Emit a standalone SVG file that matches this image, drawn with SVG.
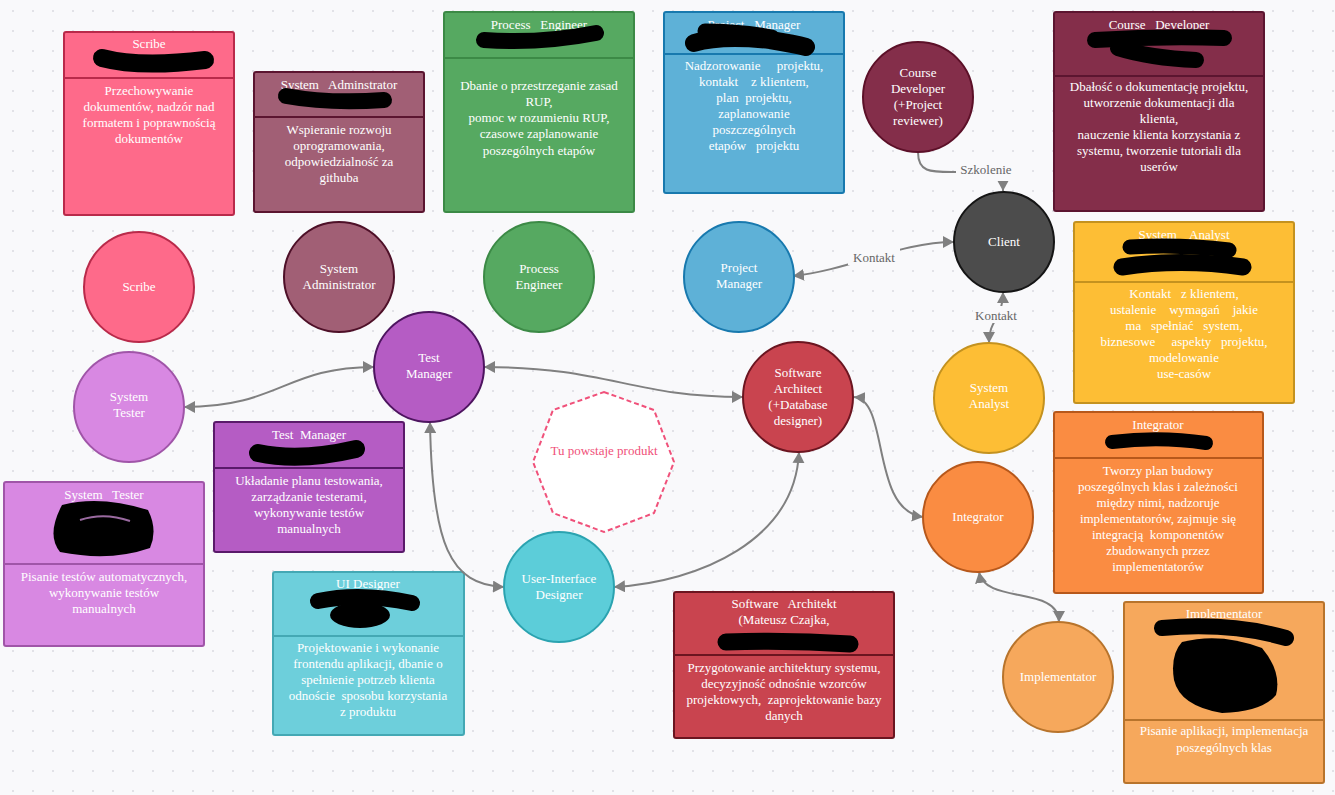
<svg xmlns="http://www.w3.org/2000/svg" width="1335" height="795" viewBox="0 0 1335 795">
  <defs>
    <pattern id="dots" x="3" y="1" width="20" height="20" patternUnits="userSpaceOnUse">
      <circle cx="10" cy="10" r="1.1" fill="#dcdce3"/>
    </pattern>
    <marker id="arr" viewBox="0 0 10 10" refX="10" refY="5" markerWidth="11" markerHeight="12" markerUnits="userSpaceOnUse" orient="auto-start-reverse" preserveAspectRatio="none">
      <path d="M0,0 L10,5 L0,10 z" fill="#808080"/>
    </marker>
    <style>
      text { font-family: "Liberation Serif", "Times New Roman", serif; font-size: 13px; fill: #ffffff; text-anchor: middle; white-space: pre; }
      .lbl { fill: #666666; }
      .prod { fill: #f0517a; }
      .card { stroke-width: 2; }
      .conn { fill: none; stroke: #808080; stroke-width: 2; }
      .ink { fill: none; stroke: #000000; stroke-linecap: round; stroke-linejoin: round; }
      .inkf { fill: #000000; }
    </style>
  </defs>

  <rect width="1335" height="795" fill="#f9f9fb"/>
  <rect width="1335" height="795" fill="url(#dots)"/>

  <!-- role cards -->
  <g id="card-scribe">
    <rect class="card" x="64" y="32" width="170" height="183" rx="2" fill="#fe6a8a" stroke="#b92a4a"/>
    <line x1="64" y1="78" x2="234" y2="78" stroke="#b92a4a" stroke-width="2"/>
    <text x="149" y="48">Scribe</text>
    <path class="ink" d="M102,58 Q 140,68 205,60" stroke-width="18"/>
    <text x="149" y="95">Przechowywanie</text>
    <text x="149" y="111">dokumentów, nadzór nad</text>
    <text x="149" y="127">formatem i poprawnością</text>
    <text x="149" y="143">dokumentów</text>
  </g>

  <g id="card-sysadmin">
    <rect class="card" x="254" y="72" width="170" height="140" rx="2" fill="#a15f75" stroke="#5b1530"/>
    <line x1="254" y1="117" x2="424" y2="117" stroke="#5b1530" stroke-width="2"/>
    <text x="339" y="89" xml:space="preserve">System   Adminstrator</text>
    <path class="ink" d="M286,96 Q 330,104 384,100" stroke-width="16"/>
    <text x="339" y="134">Wspieranie rozwoju</text>
    <text x="339" y="150">oprogramowania,</text>
    <text x="339" y="166">odpowiedzialność za</text>
    <text x="339" y="182">githuba</text>
  </g>

  <g id="card-process-engineer">
    <rect class="card" x="444" y="12" width="190" height="200" rx="2" fill="#56a961" stroke="#3c8a46"/>
    <line x1="444" y1="58" x2="634" y2="58" stroke="#3c8a46" stroke-width="2"/>
    <text x="539" y="29" xml:space="preserve">Process   Engineer</text>
    <path class="ink" d="M484,40 Q 540,44 596,33" stroke-width="16"/>
    <text x="539" y="90">Dbanie o przestrzeganie zasad</text>
    <text x="539" y="106">RUP,</text>
    <text x="539" y="122">pomoc w rozumieniu RUP,</text>
    <text x="539" y="138">czasowe zaplanowanie</text>
    <text x="539" y="155">poszególnych etapów</text>
  </g>

  <g id="card-project-manager">
    <rect class="card" x="664" y="12" width="180" height="181" rx="2" fill="#5eb1d7" stroke="#1879ae"/>
    <line x1="664" y1="54" x2="844" y2="54" stroke="#1879ae" stroke-width="2"/>
    <text x="754" y="29" xml:space="preserve">Project   Manager</text>
    <path class="ink" d="M705,31 Q 740,31 772,37" stroke-width="15"/>
    <path class="ink" d="M694,43 Q 720,35 770,40 Q 795,44 806,47" stroke-width="18"/>
    <text x="754" y="70" xml:space="preserve">Nadzorowanie     projektu,</text>
    <text x="754" y="86" xml:space="preserve">kontakt    z klientem,</text>
    <text x="754" y="102" xml:space="preserve">plan  projektu,</text>
    <text x="754" y="118">zaplanowanie</text>
    <text x="754" y="134">poszczególnych</text>
    <text x="754" y="150" xml:space="preserve">etapów   projektu</text>
  </g>

  <g id="card-course-developer">
    <rect class="card" x="1054" y="12" width="210" height="199" rx="2" fill="#842e4a" stroke="#5c1530"/>
    <line x1="1054" y1="76" x2="1264" y2="76" stroke="#5c1530" stroke-width="2"/>
    <text x="1159" y="29" xml:space="preserve">Course   Developer</text>
    <path class="ink" d="M1095,40 Q 1160,36 1224,38" stroke-width="16"/>
    <path class="ink" d="M1118,48 Q 1150,58 1196,60" stroke-width="16"/>
    <text x="1159" y="91">Dbałość o dokumentację projektu,</text>
    <text x="1159" y="107">utworzenie dokumentacji dla</text>
    <text x="1159" y="123">klienta,</text>
    <text x="1159" y="139">nauczenie klienta korzystania z</text>
    <text x="1159" y="155">systemu, tworzenie tutoriali dla</text>
    <text x="1159" y="171">userów</text>
  </g>

  <g id="card-system-analyst">
    <rect class="card" x="1074" y="222" width="220" height="181" rx="2" fill="#fdbe35" stroke="#c4921f"/>
    <line x1="1074" y1="282" x2="1294" y2="282" stroke="#c4921f" stroke-width="2"/>
    <text x="1184" y="239" xml:space="preserve">System    Analyst</text>
    <path class="ink" d="M1130,247 Q 1180,244 1229,250" stroke-width="15"/>
    <path class="ink" d="M1122,267 Q 1180,258 1243,267" stroke-width="17"/>
    <text x="1184" y="298" xml:space="preserve">Kontakt   z klientem,</text>
    <text x="1184" y="314" xml:space="preserve">ustalenie    wymagań    jakie</text>
    <text x="1184" y="330" xml:space="preserve">ma   spełniać   system,</text>
    <text x="1184" y="346" xml:space="preserve">biznesowe     aspekty   projektu,</text>
    <text x="1184" y="362">modelowanie</text>
    <text x="1184" y="378">use-casów</text>
  </g>

  <g id="card-integrator">
    <rect class="card" x="1054" y="412" width="209" height="181" rx="2" fill="#fa8c42" stroke="#b7581b"/>
    <line x1="1054" y1="458" x2="1263" y2="458" stroke="#b7581b" stroke-width="2"/>
    <text x="1158" y="429">Integrator</text>
    <path class="ink" d="M1112,442 Q 1160,436 1206,443" stroke-width="14"/>
    <text x="1158" y="475">Tworzy plan budowy</text>
    <text x="1158" y="491">poszególnych klas i zależności</text>
    <text x="1158" y="507">między nimi, nadzoruje</text>
    <text x="1158" y="523">implementatorów, zajmuje się</text>
    <text x="1158" y="539" xml:space="preserve">integracją  komponentów</text>
    <text x="1158" y="555">zbudowanych przez</text>
    <text x="1158" y="571">implementatorów</text>
  </g>

  <g id="card-test-manager">
    <rect class="card" x="214" y="422" width="190" height="130" rx="2" fill="#b55cc4" stroke="#5a1a6a"/>
    <line x1="214" y1="468" x2="404" y2="468" stroke="#5a1a6a" stroke-width="2"/>
    <text x="309" y="439" xml:space="preserve">Test  Manager</text>
    <path class="ink" d="M258,453 Q 300,462 356,449" stroke-width="18"/>
    <text x="309" y="485">Układanie planu testowania,</text>
    <text x="309" y="501">zarządzanie testerami,</text>
    <text x="309" y="517">wykonywanie testów</text>
    <text x="309" y="533">manualnych</text>
  </g>

  <g id="card-system-tester">
    <rect class="card" x="4" y="482" width="200" height="164" rx="2" fill="#d888e2" stroke="#a055a8"/>
    <line x1="4" y1="564" x2="204" y2="564" stroke="#a055a8" stroke-width="2"/>
    <text x="104" y="499" xml:space="preserve">System   Tester</text>
    <path class="inkf" d="M62,505 Q 100,495 148,510 Q 158,530 150,548 Q 110,562 60,552 Q 46,535 62,505 z"/>
    <path d="M80,520 Q 104,512 130,521" fill="none" stroke="#9a6aa0" stroke-width="2"/>
    <text x="104" y="581">Pisanie testów automatycznych,</text>
    <text x="104" y="597">wykonywanie testów</text>
    <text x="104" y="613">manualnych</text>
  </g>

  <g id="card-ui-designer">
    <rect class="card" x="273" y="572" width="191" height="163" rx="2" fill="#6dcfdb" stroke="#44a8b4"/>
    <line x1="273" y1="636" x2="464" y2="636" stroke="#44a8b4" stroke-width="2"/>
    <text x="368" y="588">UI Designer</text>
    <path class="ink" d="M318,601 Q 360,592 412,603" stroke-width="16"/>
    <ellipse class="inkf" cx="360" cy="615" rx="30" ry="13"/>
    <text x="368" y="652">Projektowanie i wykonanie</text>
    <text x="368" y="668">frontendu aplikacji, dbanie o</text>
    <text x="368" y="684">spełnienie potrzeb klienta</text>
    <text x="368" y="700" xml:space="preserve">odnoście  sposobu korzystania</text>
    <text x="368" y="716">z produktu</text>
  </g>

  <g id="card-software-architekt">
    <rect class="card" x="674" y="592" width="220" height="146" rx="2" fill="#c9444f" stroke="#6b1520"/>
    <line x1="674" y1="655" x2="894" y2="655" stroke="#6b1520" stroke-width="2"/>
    <text x="784" y="608" xml:space="preserve">Software   Architekt</text>
    <text x="784" y="624">(Mateusz Czajka,</text>
    <path class="ink" d="M726,642 Q 790,640 850,644" stroke-width="17"/>
    <text x="784" y="672">Przygotowanie architektury systemu,</text>
    <text x="784" y="688">decyzyjność odnośnie wzorców</text>
    <text x="784" y="704" xml:space="preserve">projektowych,  zaprojektowanie bazy</text>
    <text x="784" y="720">danych</text>
  </g>

  <g id="card-implementator">
    <rect class="card" x="1124" y="602" width="200" height="181" rx="2" fill="#f6a85c" stroke="#b8742c"/>
    <line x1="1124" y1="720" x2="1324" y2="720" stroke="#b8742c" stroke-width="2"/>
    <text x="1224" y="618">Implementator</text>
    <path class="ink" d="M1162,628 Q 1230,622 1286,638" stroke-width="16"/>
    <path class="inkf" d="M1182,642 Q 1220,632 1262,648 Q 1282,672 1276,695 Q 1262,712 1222,713 Q 1180,706 1174,680 Q 1170,655 1182,642 z"/>
    <text x="1224" y="735">Pisanie aplikacji, implementacja</text>
    <text x="1224" y="752">poszególnych klas</text>
  </g>

  <!-- connectors -->
  <g id="connectors">
    <path class="conn" d="M184,407 C 280,407 285,367 374,367" marker-start="url(#arr)" marker-end="url(#arr)"/>
    <path class="conn" d="M484,367 C 610,367 630,397 743,397" marker-start="url(#arr)" marker-end="url(#arr)"/>
    <path class="conn" d="M430,422 C 432,545 450,585 504,587" marker-start="url(#arr)" marker-end="url(#arr)"/>
    <path class="conn" d="M799,452 C 795,540 700,582 614,587" marker-start="url(#arr)" marker-end="url(#arr)"/>
    <path class="conn" d="M854,397 C 890,400 870,510 923,517" marker-start="url(#arr)" marker-end="url(#arr)"/>
    <path class="conn" d="M979,572 C 985,605 1059,585 1059,622" marker-start="url(#arr)" marker-end="url(#arr)"/>
    <path class="conn" d="M793,276 C 850,270 900,242 954,242" marker-start="url(#arr)" marker-end="url(#arr)"/>
    <path class="conn" d="M1003,292 C 1003,320 989,318 989,343" marker-start="url(#arr)" marker-end="url(#arr)"/>
    <path class="conn" d="M918,152 C 918,172 930,172 952,172 L 990,172 C 1000,172 1003,178 1003,191" marker-end="url(#arr)"/>
    <rect x="848" y="248" width="52" height="17" fill="#f9f9fb"/>
    <text class="lbl" x="874" y="262">Kontakt</text>
    <rect x="973" y="306" width="46" height="17" fill="#f9f9fb"/>
    <text class="lbl" x="996" y="320">Kontakt</text>
    <rect x="956" y="161" width="60" height="20" fill="#f9f9fb"/>
    <text class="lbl" x="986" y="174">Szkolenie</text>
  </g>

  <!-- role nodes -->
  <g id="node-scribe">
    <circle cx="139" cy="287" r="55" fill="#fe6a8a" stroke="#b92a4a" stroke-width="2"/>
    <text x="139" y="291">Scribe</text>
  </g>
  <g id="node-sysadmin">
    <circle cx="339" cy="277" r="55" fill="#a15f75" stroke="#4e1028" stroke-width="2"/>
    <text x="339" y="273">System</text>
    <text x="339" y="289">Administrator</text>
  </g>
  <g id="node-process-engineer">
    <circle cx="539" cy="277" r="55" fill="#56a961" stroke="#3c8a46" stroke-width="2"/>
    <text x="539" y="273">Process</text>
    <text x="539" y="289">Engineer</text>
  </g>
  <g id="node-project-manager">
    <circle cx="739" cy="277" r="55" fill="#5eb1d7" stroke="#1879ae" stroke-width="2"/>
    <text x="739" y="272">Project</text>
    <text x="739" y="288">Manager</text>
  </g>
  <g id="node-course-developer">
    <circle cx="918" cy="97" r="55" fill="#842e4a" stroke="#5c1028" stroke-width="2"/>
    <text x="918" y="77">Course</text>
    <text x="918" y="93">Developer</text>
    <text x="918" y="109">(+Project</text>
    <text x="918" y="125">reviewer)</text>
  </g>
  <g id="node-client">
    <circle cx="1004" cy="242" r="50" fill="#4c4c4c" stroke="#151515" stroke-width="2"/>
    <text x="1004" y="246">Client</text>
  </g>
  <g id="node-system-analyst">
    <circle cx="989" cy="398" r="55" fill="#fdbe35" stroke="#c4921f" stroke-width="2"/>
    <text x="989" y="392">System</text>
    <text x="989" y="408">Analyst</text>
  </g>
  <g id="node-test-manager">
    <circle cx="429" cy="367" r="55" fill="#b55cc4" stroke="#4e1560" stroke-width="2"/>
    <text x="429" y="362">Test</text>
    <text x="429" y="378">Manager</text>
  </g>
  <g id="node-system-tester">
    <circle cx="129" cy="407" r="55" fill="#d888e2" stroke="#a055a8" stroke-width="2"/>
    <text x="129" y="401">System</text>
    <text x="129" y="417">Tester</text>
  </g>
  <g id="node-software-architect">
    <circle cx="798" cy="397" r="55" fill="#c9444f" stroke="#6b1520" stroke-width="2"/>
    <text x="798" y="377">Software</text>
    <text x="798" y="393">Architect</text>
    <text x="798" y="409">(+Database</text>
    <text x="798" y="425">designer)</text>
  </g>
  <g id="node-product">
    <polygon points="604,392 654,410 674,462 654,513 604,532 553,513 533,462 553,410" fill="#ffffff" stroke="#f0517a" stroke-width="2" stroke-dasharray="5,3"/>
    <text class="prod" x="604" y="455">Tu powstaje produkt</text>
  </g>
  <g id="node-ui-designer">
    <circle cx="559" cy="587" r="55" fill="#5ccdd9" stroke="#2ba3b0" stroke-width="2"/>
    <text x="559" y="583">User-Interface</text>
    <text x="559" y="599">Designer</text>
  </g>
  <g id="node-integrator">
    <circle cx="978" cy="517" r="55" fill="#fa8c42" stroke="#b7581b" stroke-width="2"/>
    <text x="978" y="521">Integrator</text>
  </g>
  <g id="node-implementator">
    <circle cx="1058" cy="677" r="55" fill="#f6a85c" stroke="#b8742c" stroke-width="2"/>
    <text x="1058" y="681">Implementator</text>
  </g>
</svg>
